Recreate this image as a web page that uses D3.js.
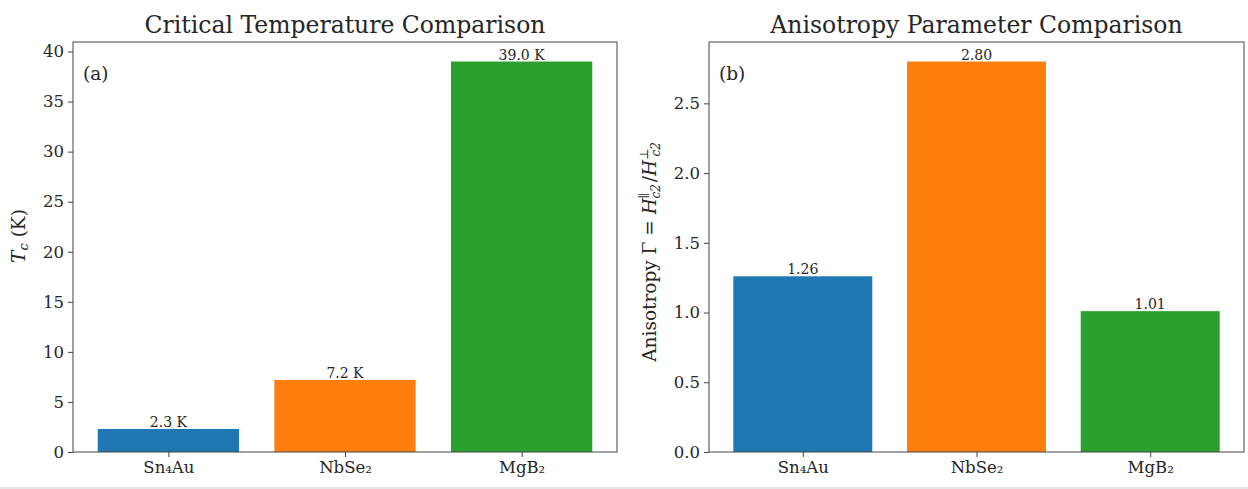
<!DOCTYPE html>
<html>
<head>
<meta charset="utf-8">
<script src="https://cdn.jsdelivr.net/npm/d3@7"></script>
<style>
  body { margin: 0; background: #fff; }
  text { font-family: "DejaVu Serif", serif; fill: #262626; }
  .axis path, .axis line { stroke: #444; }
</style>
</head>
<body>
<div id="chart"></div>
<script>
let materials = ["Sn\u2084Au", "NbSe\u2082", "MgB\u2082"];
let tcValues = [2.3, 7.2, 39.0];
let anisoValues = [1.26, 2.80, 1.01];
let barColors = ["#1f77b4", "#ff7f0e", "#2ca02c"];
let tcTicks = [0, 5, 10, 15, 20, 25, 30, 35, 40];
let anisoTicks = [0, 0.5, 1.0, 1.5, 2.0, 2.5];

let dim = { width: 1248, height: 489, top: 42, bottom: 452 };

let svg = d3.select("#chart").append("svg")
    .attr("width", dim.width)
    .attr("height", dim.height);

function panel(opts) {
  let x = d3.scaleLinear().domain([-0.54, 2.54]).range([opts.left, opts.right]);
  let ymax = d3.max(opts.values) * 1.05;
  let y = d3.scaleLinear().domain([0, ymax]).range([dim.bottom, dim.top]);

  let g = svg.append("g");

  g.selectAll("rect.bar").data(opts.values)
    .enter().append("rect")
      .attr("class", "bar")
      .attr("x", (d, i) => x(i - 0.4))
      .attr("width", (d, i) => x(i + 0.4) - x(i - 0.4))
      .attr("y", d => y(d))
      .attr("height", d => y(0) - y(d))
      .attr("fill", (d, i) => barColors[i]);

  g.selectAll("text.val").data(opts.values)
    .enter().append("text")
      .attr("class", "val")
      .attr("x", (d, i) => x(i))
      .attr("y", d => y(d) - 2)
      .attr("text-anchor", "middle")
      .style("font-size", "14px")
      .text(opts.fmt);

  let yAxis = d3.axisLeft(y).tickValues(opts.ticks).tickFormat(opts.tickFmt).tickSize(5).tickPadding(4);
  g.append("g").attr("class", "axis")
      .attr("transform", "translate(" + opts.left + ",0)")
      .call(yAxis)
      .call(s => s.select(".domain").remove())
      .selectAll("text").style("font-size", "16.5px").attr("fill", "#262626");

  let xAxis = d3.axisBottom(x).tickValues([0, 1, 2]).tickFormat(i => materials[i]).tickSize(5).tickPadding(4);
  g.append("g").attr("class", "axis")
      .attr("transform", "translate(0," + dim.bottom + ")")
      .call(xAxis)
      .call(s => s.select(".domain").remove())
      .selectAll("text").style("font-size", "16.5px").attr("fill", "#262626");

  g.append("rect")
      .attr("x", opts.left).attr("y", dim.top)
      .attr("width", opts.right - opts.left).attr("height", dim.bottom - dim.top)
      .attr("fill", "none").attr("stroke", "#444").attr("stroke-width", 1);

  g.append("text")
      .attr("x", (opts.left + opts.right) / 2)
      .attr("y", 33)
      .attr("text-anchor", "middle")
      .style("font-size", "23.5px")
      .text(opts.title);

  g.append("text")
      .attr("x", opts.left + 10)
      .attr("y", 80)
      .style("font-size", "18.5px")
      .text(opts.tag);

  return g;
}

panel({ left: 73, right: 617, values: tcValues, ticks: tcTicks,
        tickFmt: d3.format("d"), fmt: d => d.toFixed(1) + " K",
        title: "Critical Temperature Comparison", tag: "(a)" });

panel({ left: 709, right: 1244, values: anisoValues, ticks: anisoTicks,
        tickFmt: d3.format(".1f"), fmt: d => d.toFixed(2),
        title: "Anisotropy Parameter Comparison", tag: "(b)" });

// y labels
let yl1 = svg.append("text")
    .attr("transform", "translate(25,236) rotate(-90)")
    .attr("text-anchor", "middle")
    .style("font-size", "18.5px");
yl1.append("tspan").style("font-style", "italic").text("T");
yl1.append("tspan").style("font-style", "italic").style("font-size", "13px").attr("dy", 3).text("c");
yl1.append("tspan").attr("dy", -3).text(" (K)");

let yl2 = svg.append("text")
    .attr("transform", "translate(656,252) rotate(-90)")
    .attr("text-anchor", "middle")
    .style("font-size", "18.5px");
yl2.append("tspan").text("Anisotropy \u0393 = ");
yl2.append("tspan").style("font-style", "italic").text("H");
yl2.append("tspan").style("font-size", "12px").attr("dy", -8).text("\u2225");
yl2.append("tspan").style("font-style", "italic").style("font-size", "12px").attr("dx", -6).attr("dy", 12).text("c2");
yl2.append("tspan").attr("dy", -4).attr("dx", 2).text("/");
yl2.append("tspan").style("font-style", "italic").text("H");
yl2.append("tspan").style("font-size", "12px").attr("dy", -8).text("\u22a5");
yl2.append("tspan").style("font-style", "italic").style("font-size", "12px").attr("dx", -8).attr("dy", 12).text("c2");

svg.append("rect")
    .attr("x", 0).attr("y", 487)
    .attr("width", dim.width).attr("height", 2)
    .attr("fill", "#e6e6e6");
</script>
</body>
</html>
